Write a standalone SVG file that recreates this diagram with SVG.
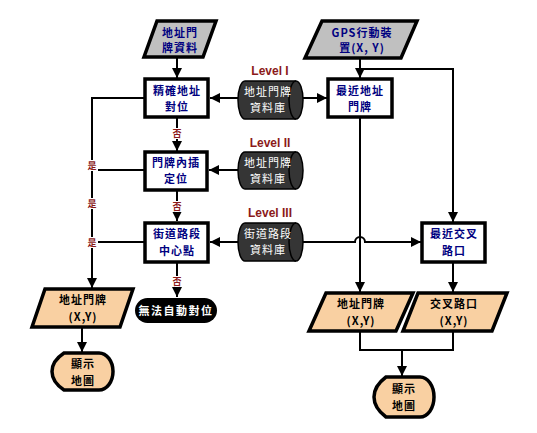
<svg xmlns="http://www.w3.org/2000/svg" width="537" height="433" viewBox="0 0 537 433">
<defs>
<marker id="ah" viewBox="0 0 10 10" refX="10" refY="5" markerWidth="5" markerHeight="5" markerUnits="strokeWidth" orient="auto">
<path d="M0,0 L10,5 L0,10 Z" fill="#000"/>
</marker>
<style>
.ln{fill:none;stroke:#000;stroke-width:2}
.ar{fill:none;stroke:#000;stroke-width:2;marker-end:url(#ah)}
.box{fill:#fff;stroke:#000;stroke-width:3.5}
.gin{fill:#c0c0c0;stroke:#000;stroke-width:3.5}
.pe{fill:#f9d0a2;stroke:#000;stroke-width:3.5}
.cyl{fill:#353535;stroke:#000;stroke-width:1.5}
.t{font-family:"Noto Sans CJK TC","Liberation Serif",serif;font-size:11px;font-weight:bold;text-anchor:middle;letter-spacing:1px}
.nv{fill:#000080}
.bk{fill:#000}
.wt{fill:#fff;font-weight:normal}
.lv{font-family:"Liberation Sans",Arial,sans-serif;font-size:12px;font-weight:bold;fill:#8b1a1a;text-anchor:middle}
.yn{font-family:"Noto Sans CJK TC","Noto Sans CJK SC",serif;font-size:9px;font-weight:bold;fill:#8b1a1a;text-anchor:middle}
</style>
</defs>
<rect width="537" height="433" fill="#fff"/>

<g id="connectors">
<path class="ar" d="M177,57 V78"/>
<path class="ar" d="M360,58 V78"/>
<path class="ar" d="M360,69 H453 V222"/>
<path class="ar" d="M238,98 H210"/>
<path class="ar" d="M303,98 H327"/>
<path class="ar" d="M238,170 H209"/>
<path class="ar" d="M238,242 H210"/>
<path class="ar" d="M303,242 H355 A5 5 0 0 1 365,242 H421"/>
<path class="ar" d="M177,117 V151"/>
<path class="ar" d="M177,190 V221"/>
<path class="ar" d="M177,262 V297"/>
<path class="ln" d="M145,98 H92 V170"/>
<path class="ar" d="M92,170 V288"/>
<path class="ln" d="M145,170 H92"/>
<path class="ln" d="M145,242 H92"/>
<path class="ar" d="M82,327 V352"/>
<path class="ar" d="M360,117 V292"/>
<path class="ar" d="M453,262 V292"/>
<path class="ln" d="M360,331 V350 H453 V330"/>
<path class="ar" d="M402,350 V376"/>
<g id="labels">
<rect x="171" y="128" width="12" height="11" fill="#fff"/><text class="yn" x="177" y="137">否</text>
<rect x="171" y="201" width="12" height="11" fill="#fff"/><text class="yn" x="177" y="210">否</text>
<rect x="171" y="276" width="12" height="11" fill="#fff"/><text class="yn" x="177" y="285">否</text>
<rect x="86" y="160" width="12" height="11" fill="#fff"/><text class="yn" x="92" y="169">是</text>
<rect x="86" y="198" width="12" height="11" fill="#fff"/><text class="yn" x="92" y="207">是</text>
<rect x="86" y="237" width="12" height="11" fill="#fff"/><text class="yn" x="92" y="246">是</text>
</g>
</g>

<g id="n-addr-input">
<path class="gin" d="M157,21 H216 L203,57 H144 Z"/>
<text class="t nv" x="180" y="37">地址門</text>
<text class="t nv" x="180" y="52">牌資料</text>
</g>
<g id="n-gps">
<path class="gin" d="M322,21 H417 L401,58 H305 Z"/>
<text class="t nv" x="362" y="37">GPS行動裝</text>
<text class="t nv" x="362" y="52">置(X, Y)</text>
</g>
<g id="n-exact">
<rect class="box" x="145" y="79" width="63" height="38"/>
<text class="t nv" x="177" y="95">精確地址</text>
<text class="t nv" x="177" y="111">對位</text>
</g>
<g id="n-nearest-addr">
<rect class="box" x="328" y="79" width="64" height="38"/>
<text class="t nv" x="360" y="95">最近地址</text>
<text class="t nv" x="360" y="111">門牌</text>
</g>
<g id="n-interp">
<rect class="box" x="145" y="152" width="62" height="38"/>
<text class="t nv" x="176" y="167">門牌內插</text>
<text class="t nv" x="176" y="183">定位</text>
</g>
<g id="n-center">
<rect class="box" x="145" y="223" width="63" height="39"/>
<text class="t nv" x="177" y="238">街道路段</text>
<text class="t nv" x="177" y="255">中心點</text>
</g>
<g id="n-nearest-int">
<rect class="box" x="422" y="223" width="63" height="39"/>
<text class="t nv" x="454" y="238">最近交叉</text>
<text class="t nv" x="454" y="255">路口</text>
</g>

<g id="n-db1">
<text class="lv" x="270" y="75">Level I</text>
<path class="cyl" d="M245,81 H296 A7 19 0 0 1 296,119 H245 A7 19 0 0 1 245,81 Z"/>
<path fill="none" stroke="#000" stroke-width="1.5" d="M296,81 A7 19 0 0 0 296,119"/>
<text class="t wt" x="268" y="96">地址門牌</text>
<text class="t wt" x="268" y="112">資料庫</text>
</g>
<g id="n-db2">
<text class="lv" x="270" y="147">Level II</text>
<path class="cyl" d="M245,152 H296 A7 18.5 0 0 1 296,189 H245 A7 18.5 0 0 1 245,152 Z"/>
<path fill="none" stroke="#000" stroke-width="1.5" d="M296,152 A7 18.5 0 0 0 296,189"/>
<text class="t wt" x="268" y="167">地址門牌</text>
<text class="t wt" x="268" y="183">資料庫</text>
</g>
<g id="n-db3">
<text class="lv" x="270" y="217">Level III</text>
<path class="cyl" d="M245,223 H296 A7 19 0 0 1 296,261 H245 A7 19 0 0 1 245,223 Z"/>
<path fill="none" stroke="#000" stroke-width="1.5" d="M296,223 A7 19 0 0 0 296,261"/>
<text class="t wt" x="268" y="238">街道路段</text>
<text class="t wt" x="268" y="254">資料庫</text>
</g>

<g id="n-out-left">
<path class="pe" d="M45,289 H133 L120,327 H32 Z"/>
<text class="t bk" x="83" y="304">地址門牌</text>
<text class="t bk" x="83" y="321">(X,Y)</text>
</g>
<g id="n-fail">
<rect x="135" y="298" width="82" height="25" rx="12.5" fill="#000"/>
<text class="t" x="176" y="315" fill="#fff" style="letter-spacing:1.5px">無法自動對位</text>
</g>
<g id="n-map-left">
<path class="pe" d="M64,353 H99 A14 18.5 0 0 1 99,390 H64 Q52,382 52,371.5 Q52,361 64,353 Z"/>
<text class="t bk" x="83" y="368">顯示</text>
<text class="t bk" x="83" y="385">地圖</text>
</g>
<g id="n-out-addr">
<path class="pe" d="M326,293 H413 L396,331 H309 Z"/>
<text class="t bk" x="361" y="308">地址門牌</text>
<text class="t bk" x="361" y="325">(X,Y)</text>
</g>
<g id="n-out-int">
<path class="pe" d="M418,293 H507 L492,331 H403 Z"/>
<text class="t bk" x="454" y="308">交叉路口</text>
<text class="t bk" x="454" y="325">(X,Y)</text>
</g>
<g id="n-map-right">
<path class="pe" d="M386,377 H420 A14 20 0 0 1 420,417 H386 Q374,408 374,397 Q374,386 386,377 Z"/>
<text class="t bk" x="404" y="393">顯示</text>
<text class="t bk" x="404" y="410">地圖</text>
</g>
</svg>
